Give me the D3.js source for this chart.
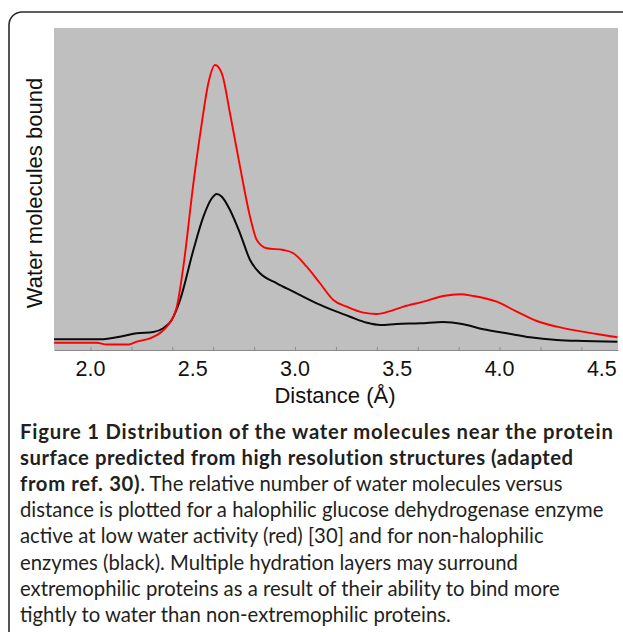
<!DOCTYPE html>
<html><head><meta charset="utf-8">
<script src="https://cdn.jsdelivr.net/npm/d3@7/dist/d3.min.js"></script>
<style>html,body{margin:0;padding:0;background:#fff;overflow:hidden}</style>
</head><body>
<svg id="c" width="623" height="632"></svg>
<script>
// ---- data ----
const redDist = [1.822,2.030,2.079,2.185,2.226,2.291,2.348,2.380,2.405,2.422,2.454,2.503,2.544,2.576,2.609,2.642,2.682,2.731,2.780,2.813,2.862,2.943,2.992,3.057,3.122,3.187,3.253,3.334,3.400,3.456,3.530,3.627,3.725,3.807,3.872,3.986,4.084,4.182,4.280,4.377,4.475,4.576];
const redVal  = [2.27,2.27,1.71,1.71,2.58,3.63,5.68,7.77,10.34,13.45,25.87,51.77,70.41,82.83,88.52,85.94,73.52,56.93,41.40,34.17,31.59,31.06,30.03,25.87,20.72,15.53,13.45,11.59,11.18,11.90,13.45,15.00,16.77,17.30,16.77,15.00,11.90,9.01,7.24,6.00,4.97,3.94];
const blackDist = [1.822,2.046,2.160,2.226,2.307,2.356,2.397,2.438,2.503,2.552,2.593,2.617,2.642,2.682,2.731,2.780,2.829,2.911,2.992,3.106,3.204,3.269,3.351,3.416,3.497,3.611,3.725,3.823,3.921,4.035,4.149,4.280,4.410,4.576];
const blackVal  = [3.32,3.32,4.35,5.19,5.59,6.74,9.32,15.53,31.06,41.40,47.12,48.45,47.61,43.48,36.25,27.95,23.82,20.72,18.11,14.50,11.90,10.34,8.48,7.77,8.08,8.29,8.70,7.98,6.43,5.19,3.94,3.11,2.80,2.58];
const minorTicks = [2.0,2.2,2.4,2.6,2.8,3.0,3.2,3.4,3.6,3.8,4.0,4.2,4.4];
const tickLabelValues = [2.0,2.5,3.0,3.5,4.0,4.5];
const tickLabels = ["2.0","2.5","3.0","3.5","4.0","4.5"];
const xTitle = "Distance (Å)";
const yTitle = "Water molecules bound";
const captionLines = [
  [["Figure 1 Distribution of the water molecules near the protein", true]],
  [["surface predicted from high resolution structures (adapted", true]],
  [["from ref. 30)", true], [". The relative number of water molecules versus", false]],
  [["distance is plotted for a halophilic glucose dehydrogenase enzyme", false]],
  [["active at low water activity (red) [30] and for non-halophilic", false]],
  [["enzymes (black). Multiple hydration layers may surround", false]],
  [["extremophilic proteins as a result of their ability to bind more", false]],
  [["tightly to water than non-extremophilic proteins.", false]]
];
const boldLineWidths = [594, 554];

const svg = d3.select("#c");

// frame
svg.append("rect").attr("x", 9).attr("y", 12).attr("width", 720).attr("height", 720)
  .attr("rx", 13).attr("fill", "none").attr("stroke", "#2b2b2b").attr("stroke-width", 1.6);

const x = d3.scaleLinear().domain([1.8215, 4.579]).range([54, 618]);
const y = d3.scaleLinear().domain([0, 100]).range([350, 28]);

svg.append("rect").attr("x", x.range()[0]).attr("y", y(100))
  .attr("width", x.range()[1] - x.range()[0]).attr("height", y(0) - y(100))
  .attr("fill", "#bfbfbf");

svg.append("defs").append("clipPath").attr("id", "clip").append("rect")
  .attr("x", x.range()[0]).attr("y", y(100))
  .attr("width", x.range()[1] - x.range()[0]).attr("height", y(0) - y(100));

// x axis line and ticks
const xAxis = d3.axisBottom(x).tickValues(minorTicks).tickSizeInner(-3).tickSizeOuter(0).tickFormat("");
const gx = svg.append("g").attr("transform", `translate(0,${y(0)})`).call(xAxis);
gx.select(".domain").attr("stroke", "#8a8a8a");
gx.selectAll(".tick line").attr("stroke", "#8a8a8a");

// tick labels
svg.append("g").selectAll("text").data(tickLabelValues).join("text")
  .attr("x", d => x(d)).attr("y", 376)
  .attr("text-anchor", "middle")
  .attr("font-family", "Liberation Sans, Arial, sans-serif").attr("font-size", 21.5)
  .attr("fill", "#111")
  .text((d, i) => tickLabels[i]);

svg.append("text").attr("x", 335).attr("y", 403).attr("text-anchor", "middle")
  .attr("font-family", "Liberation Sans, Arial, sans-serif").attr("font-size", 22)
  .attr("fill", "#111").text(xTitle);

svg.append("text").attr("transform", "translate(41.5,193) rotate(-90)")
  .attr("text-anchor", "middle")
  .attr("font-family", "Liberation Sans, Arial, sans-serif").attr("font-size", 22)
  .attr("fill", "#111").text(yTitle);

// curves
const line = d3.line().x(d => x(d[0])).y(d => y(d[1])).curve(d3.curveMonotoneX);
const gl = svg.append("g").attr("clip-path", "url(#clip)");
gl.append("path").datum(blackDist.map((d, i) => [d, blackVal[i]]))
  .attr("d", line).attr("fill", "none").attr("stroke", "#0a0a0a").attr("stroke-width", 2);
gl.append("path").datum(redDist.map((d, i) => [d, redVal[i]]))
  .attr("d", line).attr("fill", "none").attr("stroke", "#ff0000").attr("stroke-width", 1.9);

// caption
const capFont = "Lato, Open Sans, sans-serif";
function measure(txt, size, weight) {
  const p = svg.append("text").attr("font-family", capFont).attr("font-size", size)
    .attr("font-weight", weight).text(txt);
  const w = p.node().getComputedTextLength();
  p.remove();
  return w;
}
const fs = 20 * 584 / measure(captionLines[3][0][0], 20, 400);
const spacings = boldLineWidths.map((w, i) => {
  const s = captionLines[i][0][0];
  return (w - measure(s, fs, 700)) / s.length;
});
const avgSpacing = d3.mean(spacings);

captionLines.forEach((segs, i) => {
  const t = svg.append("text").attr("x", 20).attr("y", 439 + 26.1 * i)
    .attr("font-family", capFont).attr("font-size", fs).attr("fill", "#231f20");
  segs.forEach(([s, b]) => {
    const sp = t.append("tspan").attr("font-weight", b ? 700 : 400).text(s);
    if (b) sp.attr("letter-spacing", i < spacings.length ? spacings[i] : avgSpacing);
  });
});
</script>
</body></html>
